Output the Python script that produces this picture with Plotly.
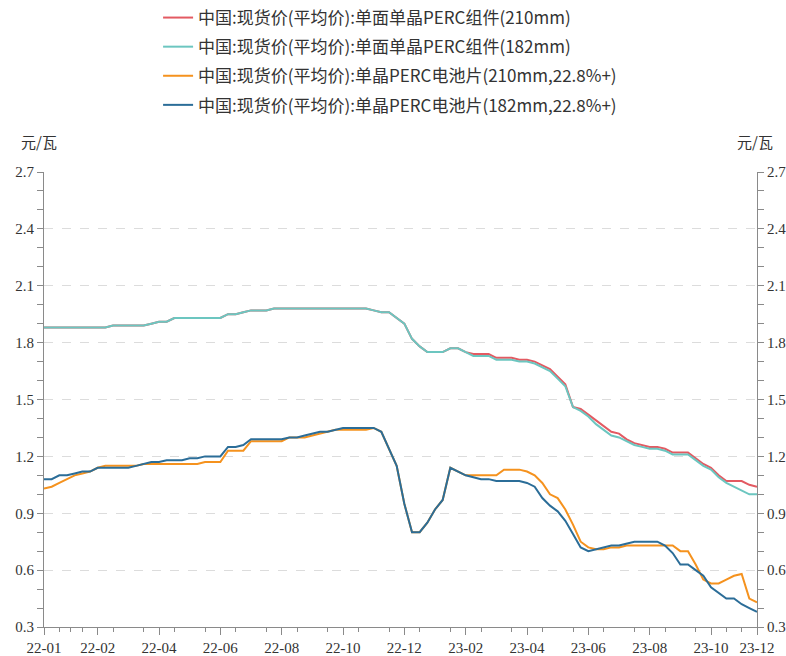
import plotly.graph_objects as go

# Semanas (94 observaciones, ene-2022 a dic-2023)
n_puntos = 94
tick_idx = [0, 7, 15, 23, 31, 39, 47, 55, 63, 71, 79, 87, 93]
tick_text = ["22-01", "22-02", "22-04", "22-06", "22-08", "22-10", "22-12",
             "23-02", "23-04", "23-06", "23-08", "23-10", "23-12"]

nombres = [
    "中国:现货价(平均价):单面单晶PERC组件(210mm)",
    "中国:现货价(平均价):单面单晶PERC组件(182mm)",
    "中国:现货价(平均价):单晶PERC电池片(210mm,22.8%+)",
    "中国:现货价(平均价):单晶PERC电池片(182mm,22.8%+)",
]

# Componentes 182mm (元/瓦)
modulo_182 = [
    1.88, 1.88, 1.88, 1.88, 1.88, 1.88, 1.88, 1.88, 1.88, 1.89,
    1.89, 1.89, 1.89, 1.89, 1.90, 1.91, 1.91, 1.93, 1.93, 1.93,
    1.93, 1.93, 1.93, 1.93, 1.95, 1.95, 1.96, 1.97, 1.97, 1.97,
    1.98, 1.98, 1.98, 1.98, 1.98, 1.98, 1.98, 1.98, 1.98, 1.98,
    1.98, 1.98, 1.98, 1.97, 1.96, 1.96, 1.93, 1.90, 1.82, 1.78,
    1.75, 1.75, 1.75, 1.77, 1.77, 1.75, 1.73, 1.73, 1.73, 1.71,
    1.71, 1.71, 1.70, 1.70, 1.69, 1.67, 1.65, 1.61, 1.57, 1.46,
    1.44, 1.41, 1.37, 1.34, 1.31, 1.30, 1.28, 1.26, 1.25, 1.24,
    1.24, 1.23, 1.21, 1.21, 1.21, 1.18, 1.15, 1.13, 1.09, 1.06,
    1.04, 1.02, 1.00, 1.00,
]

# Componentes 210mm: igual que 182mm hasta 23-02
modulo_210 = modulo_182[:56] + [
    1.74, 1.74, 1.74, 1.72, 1.72, 1.72, 1.71, 1.71, 1.70, 1.68,
    1.66, 1.62, 1.58, 1.46, 1.45, 1.42, 1.39, 1.36, 1.33, 1.32,
    1.29, 1.27, 1.26, 1.25, 1.25, 1.24, 1.22, 1.22, 1.22, 1.19,
    1.16, 1.14, 1.10, 1.07, 1.07, 1.07, 1.05, 1.04,
]

# Celdas 182mm
celda_182 = [
    1.08, 1.08, 1.10, 1.10, 1.11, 1.12, 1.12, 1.14, 1.14, 1.14,
    1.14, 1.14, 1.15, 1.16, 1.17, 1.17, 1.18, 1.18, 1.18, 1.19,
    1.19, 1.20, 1.20, 1.20, 1.25, 1.25, 1.26, 1.29, 1.29, 1.29,
    1.29, 1.29, 1.30, 1.30, 1.31, 1.32, 1.33, 1.33, 1.34, 1.35,
    1.35, 1.35, 1.35, 1.35, 1.33, 1.24, 1.15, 0.95, 0.80, 0.80,
    0.85, 0.92, 0.97, 1.14, 1.12, 1.10, 1.09, 1.08, 1.08, 1.07,
    1.07, 1.07, 1.07, 1.06, 1.04, 0.98, 0.94, 0.91, 0.86, 0.79,
    0.72, 0.70, 0.71, 0.72, 0.73, 0.73, 0.74, 0.75, 0.75, 0.75,
    0.75, 0.73, 0.69, 0.63, 0.63, 0.60, 0.57, 0.51, 0.48, 0.45,
    0.45, 0.42, 0.40, 0.38,
]

# Celdas 210mm
celda_210 = [
    1.03, 1.04, 1.06, 1.08, 1.10, 1.11, 1.12, 1.14, 1.15, 1.15,
    1.15, 1.15, 1.15, 1.16, 1.16, 1.16, 1.16, 1.16, 1.16, 1.16,
    1.16, 1.17, 1.17, 1.17, 1.23, 1.23, 1.23, 1.28, 1.28, 1.28,
    1.28, 1.28, 1.30, 1.30, 1.30, 1.31, 1.32, 1.33, 1.34, 1.34,
    1.34, 1.34, 1.34, 1.35, 1.33, 1.24, 1.15, 0.95, 0.80, 0.80,
    0.85, 0.92, 0.97, 1.14, 1.12, 1.10, 1.10, 1.10, 1.10, 1.10,
    1.13, 1.13, 1.13, 1.12, 1.10, 1.06, 1.00, 0.98, 0.92, 0.84,
    0.75, 0.72, 0.71, 0.71, 0.72, 0.72, 0.73, 0.73, 0.73, 0.73,
    0.73, 0.73, 0.73, 0.70, 0.70, 0.63, 0.55, 0.53, 0.53, 0.55,
    0.57, 0.58, 0.45, 0.43,
]

colores = ["#e35a62", "#6cc6c0", "#f5921e", "#2b6d98"]
series = [modulo_210, modulo_182, celda_210, celda_182]

x = list(range(n_puntos))

fig = go.Figure()
for i, (nombre, valores, color) in enumerate(zip(nombres, series, colores)):
    fig.add_trace(
        go.Scatter(
            x=x,
            y=valores,
            mode="lines",
            name=nombre,
            legendgroup=f"g{i}",
            line=dict(color=color, width=2),
        )
    )

# Serie auxiliar invisible para mostrar el eje derecho
fig.add_trace(
    go.Scatter(x=[0], y=[None], yaxis="y2", showlegend=False,
               hoverinfo="skip", mode="lines")
)

# Marcas menores del eje X alrededor de cada etiqueta
minor_x = [2, 3.5, 5]
for t in tick_idx[1:-1]:
    minor_x += [t - 2, t + 2]
minor_x.append(91)

fuente_eje = dict(family="Times New Roman, Liberation Serif, serif", size=15, color="#333")
eje_color = "#8a8a8a"

eje_y = dict(
    range=[0.3, 2.7],
    tick0=0.3,
    dtick=0.3,
    tickformat=".1f",
    ticks="outside",
    ticklen=6,
    tickcolor=eje_color,
    showline=True,
    linecolor=eje_color,
    zeroline=False,
    tickfont=fuente_eje,
    minor=dict(dtick=0.1, tick0=0.3, ticks="outside", ticklen=6,
               tickcolor=eje_color, showgrid=False),
)

fig.update_layout(
    width=786,
    height=656,
    margin=dict(l=44, r=29, t=172, b=29, autoexpand=False),
    plot_bgcolor="white",
    paper_bgcolor="white",
    showlegend=True,
    legend=dict(
        x=0.16,
        y=1.378,
        xanchor="left",
        yanchor="top",
        traceorder="grouped",
        tracegroupgap=4,
        itemwidth=30,
        font=dict(family="Noto Sans CJK SC", size=17, color="#333"),
        bgcolor="rgba(0,0,0,0)",
    ),
    xaxis=dict(
        range=[0, n_puntos - 1],
        tickmode="array",
        tickvals=tick_idx,
        ticktext=tick_text,
        ticks="outside",
        ticklen=7,
        tickcolor=eje_color,
        showline=True,
        linecolor=eje_color,
        linewidth=1,
        showgrid=False,
        zeroline=False,
        tickfont=fuente_eje,
        minor=dict(tickmode="array", tickvals=minor_x, ticks="outside",
                   ticklen=4, tickcolor=eje_color, showgrid=False),
    ),
    yaxis=dict(eje_y, showgrid=True, gridcolor="#dcdcdc",
               griddash="dash", gridwidth=1),
    yaxis2=dict(eje_y, overlaying="y", side="right", showgrid=False),
)

for xpos, anchor in [(-0.035, "left"), (1.025, "right")]:
    fig.add_annotation(
        text="元/瓦",
        xref="paper", yref="paper",
        x=xpos, y=1.04,
        xanchor=anchor, yanchor="bottom",
        showarrow=False,
        font=dict(family="Noto Sans CJK SC", size=15, color="#333"),
    )

# Quitar el margen del body para que la figura ocupe toda la ventana
fig.write_html(
    "out.html",
    config={"displayModeBar": False},
    post_script="document.body.style.margin='0';",
)
